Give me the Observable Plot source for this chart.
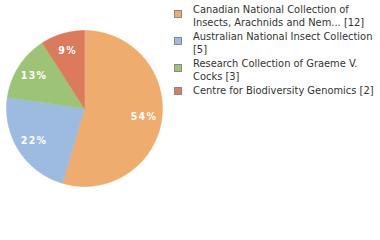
<!DOCTYPE html>
<html><head><meta charset="utf-8">
<script src="https://cdn.jsdelivr.net/npm/d3@7"></script>
<script src="https://cdn.jsdelivr.net/npm/@observablehq/plot@0.6"></script>
<style>
body{margin:0;background:#fff;}
#wrap{position:relative;width:380px;height:240px;overflow:hidden;font-family:"DejaVu Sans Condensed","DejaVu Sans",sans-serif;}
#chart{position:absolute;left:0;top:0;}
#legend{position:absolute;left:174px;top:3px;width:206px;font-size:11px;line-height:13px;color:#333;white-space:nowrap;}
.item{position:relative;padding-left:19px;margin-bottom:1px;}
.sw{position:absolute;left:0;width:6px;height:6px;border:1px solid #888;}
</style>
</head><body>
<div id="wrap"><div id="chart"></div><div id="legend"></div></div>
<script>
const labels = ["Canadian National Collection of Insects, Arachnids and Nem... [12]", "Australian National Insect Collection [5]", "Research Collection of Graeme V. Cocks [3]", "Centre for Biodiversity Genomics [2]"];
const legendLines = [["Canadian National Collection of", "Insects, Arachnids and Nem... [12]"], ["Australian National Insect Collection", "[5]"], ["Research Collection of Graeme V.", "Cocks [3]"], ["Centre for Biodiversity Genomics [2]"]];
const values = [12, 5, 3, 2];
const colors = ["#efac6f", "#9dbbe0", "#9dc476", "#dc7a5e"];

const total = d3.sum(values);
const arcs = d3.pie().sort(null).value(d => d)(values);
const poly = [];
const labs = [];
arcs.forEach((a, i) => {
  poly.push({k: i, x: 0, y: 0});
  const n = Math.max(2, Math.ceil((a.endAngle - a.startAngle) / 0.02));
  for (let j = 0; j <= n; j++) {
    const t = a.startAngle + (a.endAngle - a.startAngle) * j / n;
    poly.push({k: i, x: Math.sin(t), y: Math.cos(t)});
  }
  poly.push({k: i, x: 0, y: 0});
  const m = (a.startAngle + a.endAngle) / 2;
  labs.push({k: i, x: 0.77 * Math.sin(m), y: 0.77 * Math.cos(m), t: Math.floor(values[i] / total * 100) + "%"});
});

const W = 168, H = 216, R = 78;
const chart = Plot.plot({
  width: W, height: H, margin: 0,
  x: {domain: [-W / 2 / R, W / 2 / R], axis: null},
  y: {domain: [-H / 2 / R, H / 2 / R], axis: null},
  marks: [
    Plot.line(poly, {x: "x", y: "y", z: "k", fill: d => colors[d.k], stroke: d => colors[d.k], strokeWidth: 0.5, curve: "linear"}),
    Plot.text(labs, {x: "x", y: "y", text: "t", fill: "white", fontWeight: "bold", fontSize: 10.5, fontFamily: "DejaVu Sans Condensed"})
  ]
});
chart.style.letterSpacing = "1.2px";
document.getElementById("chart").appendChild(chart);

const lg = document.getElementById("legend");
legendLines.forEach((ls, i) => {
  const it = document.createElement("div");
  it.className = "item";
  const sw = document.createElement("div");
  sw.className = "sw";
  sw.style.background = colors[i];
  sw.style.top = (ls.length > 1 ? 7 : 3) + "px";
  it.appendChild(sw);
  ls.forEach(l => { const d = document.createElement("div"); d.textContent = l; it.appendChild(d); });
  lg.appendChild(it);
});
</script>
</body></html>
